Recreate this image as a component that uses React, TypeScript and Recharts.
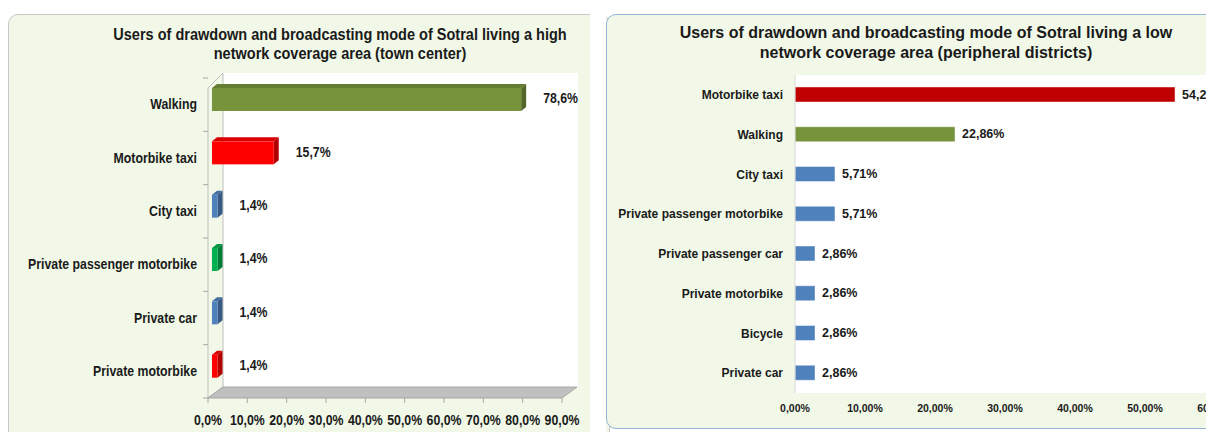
import { Bar, BarChart, CartesianGrid, Cell, LabelList, ReferenceArea, XAxis, YAxis } from "recharts";

const leftCategories = ["Walking", "Motorbike taxi", "City taxi", "Private passenger motorbike", "Private car", "Private motorbike"];
const leftValues = [78.6, 15.7, 1.4, 1.4, 1.4, 1.4];
const leftColors = ["#77933C", "#FF0000", "#4F81BD", "#00B050", "#4F81BD", "#FF0000"];
const leftTicks = [0, 10, 20, 30, 40, 50, 60, 70, 80, 90];

const rightCategories = [
  "Motorbike taxi",
  "Walking",
  "City taxi",
  "Private passenger motorbike",
  "Private passenger car",
  "Private motorbike",
  "Bicycle",
  "Private car",
];
const rightValues = [54.29, 22.86, 5.71, 5.71, 2.86, 2.86, 2.86, 2.86];
const rightColors = ["#C00000", "#77933C", "#4F81BD", "#4F81BD", "#4F81BD", "#4F81BD", "#4F81BD", "#4F81BD"];
const rightTicks = [0, 10, 20, 30, 40, 50, 60];

const leftData = leftCategories.map((name, i) => ({ name, value: leftValues[i] }));
const rightData = rightCategories.map((name, i) => ({ name, value: rightValues[i] }));

const SANS = "'Liberation Sans', Arial, sans-serif";
const PANEL_BG = "#F1F8E7";
const INK = "#1a1a1a";
// no narrow font installed, so squeeze the regular one
const SQUEEZE = 0.88;

// 3d depth of the left chart
const DX = 15;
const DY = 11;

function shade(hex: string, f: number) {
  const n = parseInt(hex.slice(1), 16);
  const r = Math.round(((n >> 16) & 255) * f);
  const g = Math.round(((n >> 8) & 255) * f);
  const b = Math.round((n & 255) * f);
  return `rgb(${r},${g},${b})`;
}

function NarrowText({ x, y, anchor, children, dy }: any) {
  return (
    <text
      transform={`translate(${x},${y}) scale(${SQUEEZE},1)`}
      textAnchor={anchor}
      dominantBaseline={dy ? undefined : "central"}
      dy={dy}
      fontFamily={SANS}
      fontWeight="bold"
      fontSize={14}
      fill={INK}
    >
      {children}
    </text>
  );
}

function LeftCatTick(props: any) {
  const { x, y, payload } = props;
  return (
    <NarrowText x={x} y={y} anchor="end">
      {payload.value}
    </NarrowText>
  );
}

function LeftNumTick(props: any) {
  const { x, y, payload } = props;
  return (
    <NarrowText x={x} y={y} anchor="middle" dy="0.71em">
      {`${Number(payload.value).toFixed(1).replace(".", ",")}%`}
    </NarrowText>
  );
}

function Walls(props: any) {
  const { x, y, width, height } = props;
  const x1 = x + width;
  const y1 = y + height;
  const band = height / leftCategories.length;
  return (
    <g>
      <rect x={x + DX} y={y - 5} width={width + 1} height={height - DY + 5} fill="#fff" />
      <polygon
        points={`${x},${y + 10} ${x + DX},${y - 5} ${x + DX},${y1 - DY} ${x},${y1}`}
        fill={PANEL_BG}
        stroke="#bfbfbf"
        strokeWidth={1}
      />
      <polygon
        points={`${x},${y1} ${x + DX},${y1 - DY} ${x1 + DX},${y1 - DY} ${x1},${y1}`}
        fill="#c0c0c0"
        stroke="#a6a6a6"
        strokeWidth={1}
      />
      {leftCategories.map((c, i) => (
        <line key={c} x1={x - 5} x2={x} y1={y + band * i} y2={y + band * i} stroke="#a6a6a6" />
      ))}
      <line x1={x - 5} x2={x} y1={y1} y2={y1} stroke="#a6a6a6" />
    </g>
  );
}

function Bar3D(props: any) {
  const { x, y, width, height, fill } = props;
  const sx = x + 4;
  const sy = y - 5;
  const d = 5;
  const e = 4;
  return (
    <g>
      <polygon
        points={`${sx},${sy} ${sx + d},${sy - e} ${sx + width + d},${sy - e} ${sx + width},${sy}`}
        fill={shade(fill, 0.85)}
      />
      <polygon
        points={`${sx + width},${sy} ${sx + width + d},${sy - e} ${sx + width + d},${sy + height - e} ${sx + width},${sy + height}`}
        fill={shade(fill, 0.7)}
      />
      <rect x={sx} y={sy} width={width} height={height} fill={fill} />
    </g>
  );
}

function LeftLabel(props: any) {
  const { x, y, width, height, value } = props;
  return (
    <NarrowText x={x + width + 26} y={y - 5 + height / 2 - 1} anchor="start">
      {`${value.toFixed(1).replace(".", ",")}%`}
    </NarrowText>
  );
}

function RightLabel(props: any) {
  const { x, y, width, height, value } = props;
  return (
    <text
      x={x + width + 7}
      y={y + height / 2}
      dominantBaseline="central"
      fontFamily={SANS}
      fontWeight="bold"
      fontSize={12.5}
      fill={INK}
    >
      {`${value.toFixed(2).replace(".", ",")}%`}
    </text>
  );
}

const titleStyle = {
  position: "absolute" as const,
  fontFamily: SANS,
  fontWeight: "bold" as const,
  textAlign: "center" as const,
  color: INK,
  whiteSpace: "nowrap" as const,
};

export default function App() {
  return (
    <div
      style={{
        position: "absolute",
        left: 0,
        top: 0,
        width: 1206,
        height: 432,
        overflow: "hidden",
        background: "#fff",
      }}
    >
      {/* left panel */}
      <div
        style={{
          position: "absolute",
          left: 8,
          top: 14,
          width: 600,
          height: 440,
          background: PANEL_BG,
          border: "1px solid #c8c8c8",
          borderRadius: 10,
        }}
      />
      <div style={{ position: "absolute", left: 590, top: 0, width: 16, height: 432, background: "#fff" }} />
      {/* right panel */}
      <div
        style={{
          position: "absolute",
          left: 606,
          top: 14,
          width: 640,
          height: 413,
          background: PANEL_BG,
          border: "1px solid #95B3D7",
          borderRadius: 10,
        }}
      />

      <div
        style={{
          ...titleStyle,
          left: 40,
          width: 600,
          top: 25,
          fontSize: 16.5,
          lineHeight: "19px",
          transform: `scaleX(${SQUEEZE})`,
          transformOrigin: "300px 0",
        }}
      >
        Users of drawdown and broadcasting mode of Sotral living a high
        <br />
        network coverage area (town center)
      </div>
      <div style={{ ...titleStyle, left: 626, width: 600, top: 23, fontSize: 16, lineHeight: "20px" }}>
        Users of drawdown and broadcasting mode of Sotral living a low
        <br />
        network coverage area (peripheral districts)
      </div>

      <div style={{ position: "absolute", left: 0, top: 0 }}>
        <BarChart
          width={600}
          height={432}
          data={leftData}
          layout="vertical"
          margin={{ top: 78, right: 38, bottom: 4, left: 8 }}
          barCategoryGap={0}
        >
          <ReferenceArea x1={0} x2={90} shape={<Walls />} ifOverflow="visible" />
          <XAxis
            type="number"
            domain={[0, 90]}
            ticks={leftTicks}
            height={30}
            axisLine={false}
            tickLine={{ stroke: "#a6a6a6" }}
            tickSize={5}
            tickMargin={12}
            tick={<LeftNumTick />}
            interval={0}
          />
          <YAxis
            type="category"
            dataKey="name"
            width={200}
            axisLine={false}
            tickLine={false}
            tickSize={0}
            tickMargin={11}
            interval={0}
            tick={<LeftCatTick />}
          />
          <Bar dataKey="value" barSize={23} shape={<Bar3D />} isAnimationActive={false}>
            {leftData.map((d, i) => (
              <Cell key={d.name} fill={leftColors[i]} />
            ))}
            <LabelList dataKey="value" content={<LeftLabel />} />
          </Bar>
        </BarChart>
      </div>

      <div style={{ position: "absolute", left: 600, top: 0 }}>
        <BarChart
          width={630}
          height={432}
          data={rightData}
          layout="vertical"
          margin={{ top: 75, right: 15, bottom: 9, left: 10 }}
        >
          <CartesianGrid fill="#fff" horizontal={false} vertical={false} />
          <XAxis
            type="number"
            domain={[0, 60]}
            ticks={rightTicks}
            height={30}
            axisLine={false}
            tickLine={false}
            tickSize={0}
            tickMargin={12}
            interval={0}
            tickFormatter={(v) => `${Number(v).toFixed(2).replace(".", ",")}%`}
            tick={{ fontFamily: SANS, fontWeight: "bold", fontSize: 10.5, fill: INK }}
          />
          <YAxis
            type="category"
            dataKey="name"
            width={185}
            axisLine={{ stroke: "#d9d9d9" }}
            tickLine={false}
            tickSize={0}
            tickMargin={12}
            interval={0}
            tick={{ fontFamily: SANS, fontWeight: "bold", fontSize: 12, fill: INK }}
          />
          <Bar dataKey="value" barSize={15} isAnimationActive={false}>
            {rightData.map((d, i) => (
              <Cell key={d.name} fill={rightColors[i]} stroke="rgba(255,255,255,0.45)" />
            ))}
            <LabelList dataKey="value" content={<RightLabel />} />
          </Bar>
        </BarChart>
      </div>
    </div>
  );
}
